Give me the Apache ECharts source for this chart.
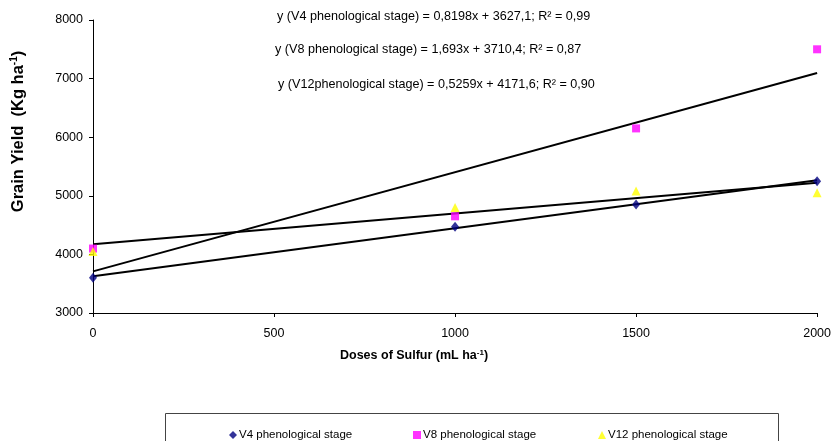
<!DOCTYPE html>
<html><head><meta charset="utf-8">
<script src="https://cdn.jsdelivr.net/npm/echarts@6/dist/echarts.min.js"></script>
<style>html,body{margin:0;padding:0;background:#fff}#c{width:834px;height:441px}</style>
</head><body><div id="c"></div>
<script>
const doses = [0, 1000, 1500, 2000];
const v4 = [3600, 4470, 4850, 5250];
const v8 = [4100, 4650, 6150, 7500];
const v12 = [4050, 4800, 5080, 5050];
const trendX = [0, 2000];
const trendV4 = [3627.1, 5266.7];
const trendV8 = [3710.4, 7096.4];
const trendV12 = [4171.6, 5223.4];
const xTicks = [0, 500, 1000, 1500, 2000];
const yTicks = [3000, 4000, 5000, 6000, 7000, 8000];
const equations = [
  'y (V4 phenological stage) = 0,8198x + 3627,1; R² = 0,99',
  'y (V8 phenological stage) = 1,693x + 3710,4; R² = 0,87',
  'y (V12phenological stage) = 0,5259x + 4171,6; R² = 0,90'
];
const names = ['V4 phenological stage', 'V8 phenological stage', 'V12 phenological stage'];

const FONT = "'Liberation Sans', Arial, sans-serif";
const pairs = (xs, ys) => xs.map((x, i) => [x, ys[i]]);
const chart = echarts.init(document.getElementById('c'));
const trendStyle = {type: 'line', symbol: 'none', silent: true, lineStyle: {color: '#000', width: 2}, z: 2};
const nameRich = (fs) => ({
  b: {fontFamily: FONT, fontWeight: 'bold', fontSize: fs, color: '#000'},
  s: {fontFamily: FONT, fontWeight: 'bold', fontSize: Math.round(fs * 0.6), color: '#000', padding: [0, 0, Math.round(fs * 0.5), 0]}
});
const legendBase = {itemWidth: 8, itemHeight: 8, top: 424, itemGap: 0,
  textStyle: {fontSize: 11.5, fontFamily: FONT, color: '#000', padding: [0, 0, 0, -3]}};
chart.setOption({
  animation: false,
  textStyle: {fontFamily: FONT},
  grid: {left: 93, right: 14, top: 20, bottom: 128},
  xAxis: {
    type: 'value', min: 0, max: 2000, interval: 500,
    name: '{b|Doses of Sulfur (mL ha}{s|-1}{b|)}',
    nameLocation: 'middle', nameGap: 36,
    nameTextStyle: {rich: nameRich(12.5), padding: [0, 82, 0, 0]},
    axisLine: {lineStyle: {color: '#000', width: 1}},
    axisTick: {show: true, length: 4, lineStyle: {color: '#000'}},
    axisLabel: {color: '#000', fontSize: 12.5, fontFamily: FONT, margin: 14, formatter: v => String(v)},
    splitLine: {show: false}
  },
  yAxis: {
    type: 'value', min: 3000, max: 8000, interval: 1000,
    name: '{b|Grain Yield  (Kg ha}{s|-1}{b|)}',
    nameLocation: 'middle', nameGap: 66,
    nameTextStyle: {rich: nameRich(16.5), padding: [0, 0, 0, 70]},
    axisLine: {show: true, lineStyle: {color: '#000', width: 1}},
    axisTick: {show: true, length: 4, lineStyle: {color: '#000'}},
    axisLabel: {color: '#000', fontSize: 12.5, fontFamily: FONT, margin: 10, formatter: v => String(v)},
    splitLine: {show: false}
  },
  legend: [
    Object.assign({data: [names[0]], left: 224}, legendBase),
    Object.assign({data: [names[1]], left: 408}, legendBase),
    Object.assign({data: [names[2]], left: 593}, legendBase)
  ],
  graphic: [
    {type: 'rect', shape: {x: 165.5, y: 413.5, width: 613, height: 40}, style: {fill: 'none', stroke: '#444', lineWidth: 1}, z: -1},
    ...equations.map((t, i) => ({
      type: 'text', x: [277, 275, 278][i], y: [17, 50, 85][i],
      style: {text: t, fontSize: 12.6, fontFamily: FONT, fill: '#000', verticalAlign: 'middle'}
    }))
  ],
  series: [
    Object.assign({data: pairs(trendX, trendV4)}, trendStyle),
    Object.assign({data: pairs(trendX, trendV8)}, trendStyle),
    Object.assign({data: pairs(trendX, trendV12)}, trendStyle),
    {name: names[0], type: 'scatter', data: pairs(doses, v4), symbol: 'diamond', symbolSize: [8, 10], itemStyle: {color: '#000080'}, z: 3},
    {name: names[1], type: 'scatter', data: pairs(doses, v8), symbol: 'rect', symbolSize: 8, itemStyle: {color: '#FF00FF'}, z: 3},
    {name: names[2], type: 'scatter', data: pairs(doses, v12), symbol: 'triangle', symbolSize: 9, itemStyle: {color: '#FFFF00'}, z: 4}
  ]
});
</script></body></html>
